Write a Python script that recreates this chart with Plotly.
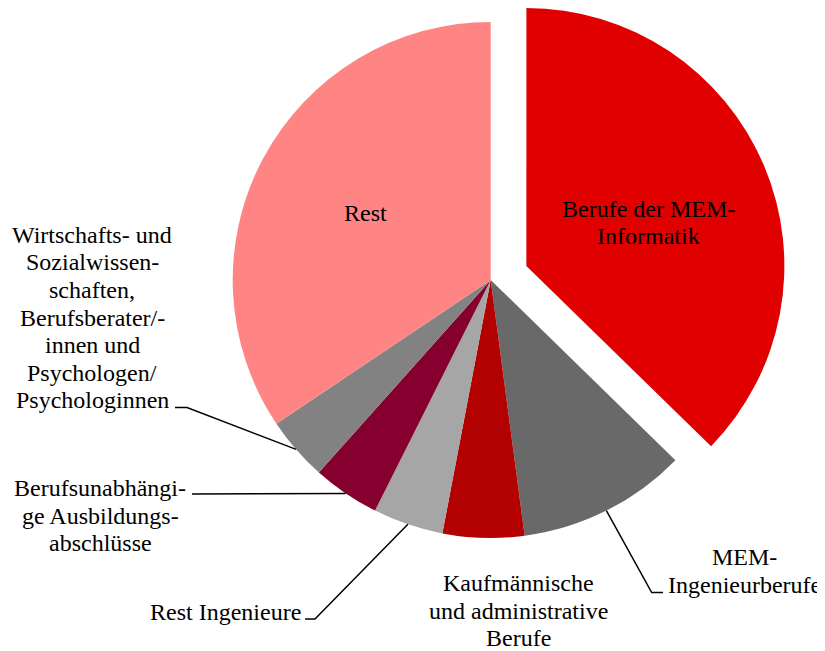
import math
import plotly.graph_objects as go

# ---------------- data ----------------
categories = [
    "Berufe der MEM-Informatik",
    "MEM-Ingenieurberufe",
    "Kaufmännische und administrative Berufe",
    "Rest Ingenieure",
    "Berufsunabhängige Ausbildungsabschlüsse",
    "Wirtschafts- und Sozialwissenschaften, Berufsberater/-innen und Psychologen/Psychologinnen",
    "Rest",
]
shares = [37.3, 10.6, 5.1, 4.4, 4.2, 4.0, 34.4]
colors = ["#E00000", "#696969", "#B30000", "#A6A6A6", "#85002F", "#828282", "#FF8585"]
label_lines = [
    ["Berufe der MEM-", "Informatik"],
    ["MEM-", "Ingenieurberufe"],
    ["Kaufmännische", "und administrative", "Berufe"],
    ["Rest Ingenieure"],
    ["Berufsunabhängi-", "ge Ausbildungs-", "abschlüsse"],
    ["Wirtschafts- und", "Sozialwissen-", "schaften,", "Berufsberater/-", "innen und",
     "Psychologen/", "Psychologinnen"],
    ["Rest"],
]
pulled = [0.15, 0, 0, 0, 0, 0, 0]

# ---------------- layout constants ----------------
BODY = 8                      # default page margin around the plot div
W, H = 825 - BODY, 651 - BODY
CX, CY, R = 490.7, 280.0, 258.0   # in window pixels
FONT = "Liberation Serif, Times New Roman, serif"
FS = 24
LINE_H = 27.5

label_pos = {
    0: (648, 208.5),
    1: (744, 557),
    2: (518, 583),
    3: (225, 612),
    4: (100, 488),
    5: (92, 235),
    6: None,
}
leader = {
    1: [(651.7, 592.5), (663, 592.5)],
    3: [(315, 619), (305, 619)],
    4: [(192, 494)],
    5: [(187, 407.5), (175, 407.5)],
}
inside_frac = {6: 0.552}


def px(x):
    return (x - BODY) / W


def py(y):
    return 1 - (y - BODY) / H


total = sum(shares)
angles = []
acc = 0.0
for v in shares:
    a0 = acc / total * 360
    acc += v
    a1 = acc / total * 360
    angles.append((a0, a1, (a0 + a1) / 2))


def polar(cx, cy, r, deg):
    t = math.radians(deg)
    return cx + r * math.sin(t), cy - r * math.cos(t)


pull_i = 0
pdx, pdy = polar(0, 0, R * pulled[pull_i], angles[pull_i][2])
# keep the exploded slice's domain inside the page
pcx = CX + pdx
pcy = max(CY + pdy, BODY + R + 0.01)


def dom(cx, cy):
    return dict(x=[max(0, px(cx - R)), min(1, px(cx + R))],
                y=[max(0, py(cy + R)), min(1, py(cy - R))])


base_colors = [("rgba(0,0,0,0)" if pulled[i] else c) for i, c in enumerate(colors)]
pull_colors = [(c if pulled[i] else "rgba(0,0,0,0)") for i, c in enumerate(colors)]

fig = go.Figure()
fig.add_trace(go.Pie(
    labels=categories, values=shares, sort=False, direction="clockwise", rotation=0,
    marker=dict(colors=base_colors, line=dict(width=0)), textinfo="none",
    hoverinfo="skip", showlegend=False, domain=dom(CX, CY),
))
fig.add_trace(go.Pie(
    labels=categories, values=shares, sort=False, direction="clockwise", rotation=0,
    marker=dict(colors=pull_colors, line=dict(width=0)), textinfo="none",
    hoverinfo="skip", showlegend=False, domain=dom(pcx, pcy),
))

annotations = []
shapes = []
for i, lines in enumerate(label_lines):
    if label_pos[i] is None:
        ccx, ccy = (pcx, pcy) if pulled[i] else (CX, CY)
        mx, my = polar(ccx, ccy, R * inside_frac[i], angles[i][2])
        lx, ly0 = mx, my - (len(lines) - 1) * LINE_H / 2
    else:
        lx, ly0 = label_pos[i]
    for k, t in enumerate(lines):
        annotations.append(dict(
            x=px(lx), y=py(ly0 + k * LINE_H), xref="paper", yref="paper",
            text=t, showarrow=False, xanchor="center", yanchor="middle",
            font=dict(family=FONT, size=FS, color="black"),
        ))
    if i in leader:
        ex, ey = polar(CX, CY, R, angles[i][2])
        pts = [(ex, ey)] + leader[i]
        path = "M " + " L ".join(f"{px(x):.5f},{py(y):.5f}" for x, y in pts)
        shapes.append(dict(type="path", xref="paper", yref="paper", path=path,
                           line=dict(color="black", width=1.5)))

fig.update_layout(
    width=W, height=H, margin=dict(l=0, r=0, t=0, b=0),
    paper_bgcolor="white", plot_bgcolor="white",
    annotations=annotations, shapes=shapes,
)
fig.write_html("out.html")
